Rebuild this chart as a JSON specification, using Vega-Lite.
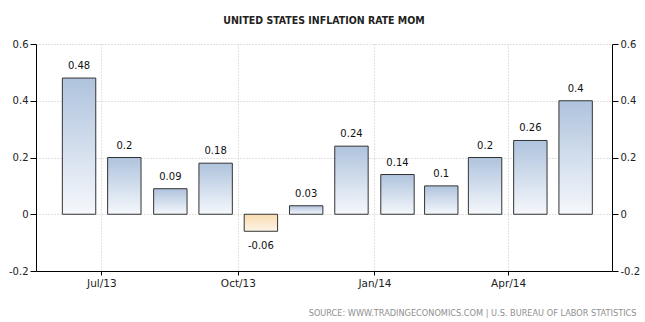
{
  "$schema": "https://vega.github.io/schema/vega-lite/v6.json",
  "width": 576,
  "height": 227,
  "autosize": {"type": "none"},
  "padding": {"left": 36, "top": 44, "right": 33, "bottom": 51},
  "background": "white",
  "title": {
    "text": "UNITED STATES INFLATION RATE MOM",
    "font": "DejaVu Sans Condensed, DejaVu Sans",
    "fontSize": 10.5,
    "fontWeight": "bold",
    "color": "#222222",
    "anchor": "middle",
    "offset": 13
  },
  "config": {
    "locale": {"number": {"decimal": ".", "thousands": ",", "grouping": [3], "currency": ["$", ""], "minus": "-"}},
    "view": {"stroke": null},
    "axis": {"labelFont": "DejaVu Sans", "labelColor": "#222222", "domainColor": "#000000", "tickColor": "#000000", "gridColor": "#c4c4c4", "gridDash": [1, 2]}
  },
  "data": {
    "values": [
      {"month": "2013-06", "value": 0.48},
      {"month": "2013-07", "value": 0.2},
      {"month": "2013-08", "value": 0.09},
      {"month": "2013-09", "value": 0.18},
      {"month": "2013-10", "value": -0.06},
      {"month": "2013-11", "value": 0.03},
      {"month": "2013-12", "value": 0.24},
      {"month": "2014-01", "value": 0.14},
      {"month": "2014-02", "value": 0.1},
      {"month": "2014-03", "value": 0.2},
      {"month": "2014-04", "value": 0.26},
      {"month": "2014-05", "value": 0.4}
    ]
  },
  "encoding": {
    "x": {
      "field": "month",
      "type": "temporal",
      "timeUnit": "yearmonth",
      "bandPosition": 0.5,
      "scale": {"domain": [{"year": 2013, "month": 5, "date": 18}, {"year": 2014, "month": 6, "date": 10}], "nice": false},
      "axis": {
        "values": [{"year": 2013, "month": 7, "date": 1}, {"year": 2013, "month": 10, "date": 1}, {"year": 2014, "month": 1, "date": 1}, {"year": 2014, "month": 4, "date": 1}],
        "format": "%b/%y",
        "grid": true,
        "tickSize": 4,
        "labelFontSize": 10.5,
        "labelPadding": 3,
        "title": "SOURCE:  WWW.TRADINGECONOMICS.COM  |  U.S.  BUREAU  OF  LABOR  STATISTICS",
        "titleFont": "DejaVu Sans",
        "titleFontSize": 8.2,
        "titleFontWeight": "normal",
        "titleColor": "#8f8f8f",
        "titleAnchor": "end",
        "titleAlign": "right",
        "titleX": 600,
        "titleY": 44,
        "titleBaseline": "alphabetic"
      }
    }
  },
  "layer": [
    {
      "transform": [{"filter": "datum.value >= 0"}],
      "mark": {
        "type": "bar",
        "width": 33.4,
        "stroke": "#333333",
        "strokeWidth": 1,
        "fill": {"gradient": "linear", "x1": 0, "y1": 0, "x2": 0, "y2": 1, "stops": [{"offset": 0, "color": "#afc3dd"}, {"offset": 1, "color": "#f5f8fc"}]}
      },
      "encoding": {
        "y": {
          "field": "value",
          "type": "quantitative",
          "scale": {"domain": [-0.2, 0.6], "nice": false, "zero": false},
          "axis": {"values": [-0.2, 0, 0.2, 0.4, 0.6], "format": ".1~f", "grid": true, "tickSize": 6, "labelFontSize": 10, "labelPadding": 2, "title": null}
        }
      }
    },
    {
      "transform": [{"filter": "datum.value < 0"}],
      "mark": {
        "type": "bar",
        "width": 33.4,
        "stroke": "#333333",
        "strokeWidth": 1,
        "fill": {"gradient": "linear", "x1": 0, "y1": 0, "x2": 0, "y2": 1, "stops": [{"offset": 0, "color": "#f8dcb0"}, {"offset": 1, "color": "#fdf4e7"}]}
      },
      "encoding": {"y": {"field": "value", "type": "quantitative", "axis": null}}
    },
    {
      "transform": [{"filter": "datum.value >= 0"}],
      "mark": {"type": "text", "font": "DejaVu Sans", "fontSize": 10, "color": "#111111", "baseline": "alphabetic", "dy": -9},
      "encoding": {
        "y": {"field": "value", "type": "quantitative", "axis": null},
        "text": {"field": "value", "type": "quantitative", "format": ".2~f"}
      }
    },
    {
      "transform": [{"filter": "datum.value < 0"}],
      "mark": {"type": "text", "font": "DejaVu Sans", "fontSize": 10, "color": "#111111", "baseline": "top", "dy": 10},
      "encoding": {
        "y": {"field": "value", "type": "quantitative", "axis": null},
        "text": {"field": "value", "type": "quantitative", "format": ".2~f"}
      }
    },
    {
      "mark": {"type": "rule", "opacity": 0},
      "encoding": {
        "x": {"value": 0},
        "y": {"field": "value", "type": "quantitative", "axis": {"orient": "right", "values": [-0.2, 0, 0.2, 0.4, 0.6], "format": ".1~f", "grid": false, "tickSize": 6, "labelFontSize": 10, "labelPadding": 2, "title": null}}
      }
    }
  ],
  "resolve": {"scale": {"y": "shared"}, "axis": {"y": "independent"}}
}
